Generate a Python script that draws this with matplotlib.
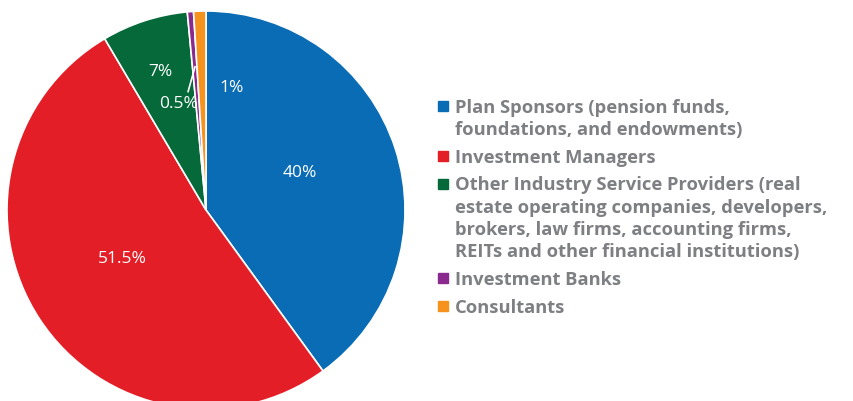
import matplotlib.pyplot as plt
from matplotlib.patches import Rectangle

# Slice data (clockwise from 12 o'clock)
categories = ['Plan Sponsors (pension funds,\nfoundations, and endowments)',
              'Investment Managers',
              'Other Industry Service Providers (real\nestate operating companies, developers,\nbrokers, law firms, accounting firms,\nREITs and other financial institutions)',
              'Investment Banks',
              'Consultants']
shares = [40, 51.5, 7, 0.5, 1]
pct_labels = ['40%', '51.5%', '7%', '0.5%', '1%']
colors = ['#0a6cb4', '#e31e27', '#05693a', '#8a2a8e', '#f6931e']

fig = plt.figure(figsize=(8.54, 4.02), dpi=100)
# pie centre ~ (206, 211) px, radius ~199 px
ax = fig.add_axes([(206 - 199) / 854, (191 - 199) / 402, 398 / 854, 398 / 402])
ax.pie(shares, colors=colors, startangle=90, counterclock=False,
       wedgeprops=dict(edgecolor='white', linewidth=1.2))
ax.set_xlim(-1, 1)
ax.set_ylim(-1, 1)
ax.set_aspect('equal')
ax.axis('off')

# percentage labels (data coords, hand placed like the original)
label_pos = [(0.47, 0.19), (-0.42, -0.24), (-0.23, 0.70), (-0.14, 0.54), (0.13, 0.62)]
for txt, (x, y) in zip(pct_labels, label_pos):
    ax.text(x, y, txt, color='white', fontsize=12.5, ha='center', va='center',
            family='Open Sans')
# little leader line for the 0.5% slice
ax.plot([-0.055, -0.09], [0.72, 0.595], color='white', lw=1.2)

# legend, drawn by hand
text_grey = '#7d7f82'
line_h = 22.3
y = 107
for cat, col in zip(categories, colors):
    fig.patches.append(Rectangle((438 / 854, 1 - (y + 5) / 402), 10 / 854, 10 / 402,
                                 transform=fig.transFigure, color=col))
    fig.text(455 / 854, 1 - (y - 8) / 402, cat, color=text_grey, fontsize=13.2,
             fontweight='bold', family='Open Sans', ha='left', va='top',
             linespacing=1.3)
    y += line_h * (cat.count('\n') + 1) + 5.3

fig.savefig('out.png', dpi=100, facecolor='white')
